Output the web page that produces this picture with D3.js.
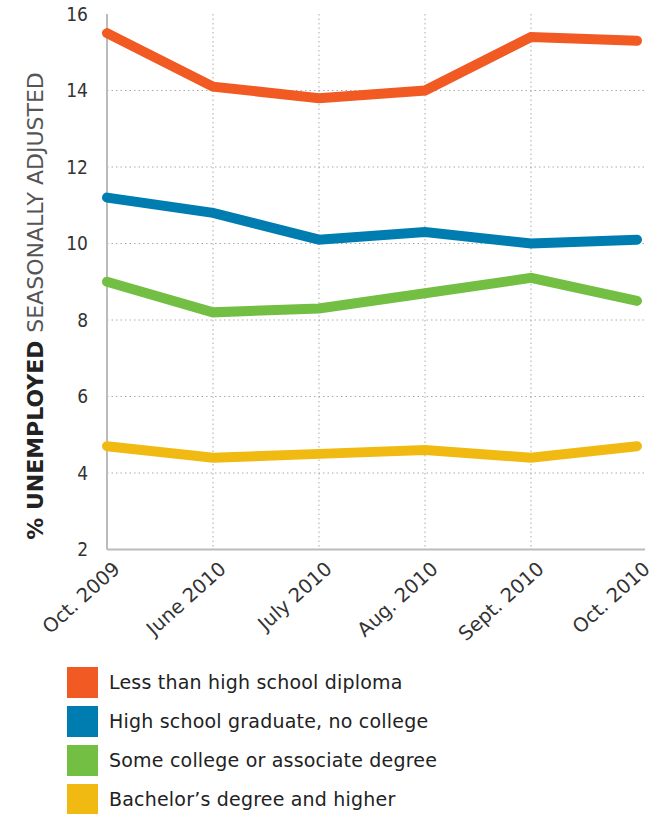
<!DOCTYPE html>
<html>
<head>
<meta charset="utf-8">
<script src="https://cdn.jsdelivr.net/npm/d3@7"></script>
<style>
  body { margin: 0; background: #fff; }
  svg { display: block; font-family: "DejaVu Sans", sans-serif; }
</style>
</head>
<body>
<div id="chart"></div>
<script>
// categories and series
const months = ["Oct. 2009", "June 2010", "July 2010", "Aug. 2010", "Sept. 2010", "Oct. 2010"];
const lessThanHS = [15.5, 14.1, 13.8, 14.0, 15.4, 15.3];
const hsGrad = [11.2, 10.8, 10.1, 10.3, 10.0, 10.1];
const someCollege = [9.0, 8.2, 8.3, 8.7, 9.1, 8.5];
const bachelors = [4.7, 4.4, 4.5, 4.6, 4.4, 4.7];
const yTicks = [2, 4, 6, 8, 10, 12, 14, 16];
const seriesNames = ["Less than high school diploma", "High school graduate, no college", "Some college or associate degree", "Bachelor\u2019s degree and higher"];
const seriesColors = ["#F15A22", "#007DB0", "#72BF44", "#F1BA13"];

const series = [lessThanHS, hsGrad, someCollege, bachelors].map((vals, i) => ({
  name: seriesNames[i], color: seriesColors[i], values: vals
}));

const width = 657, height = 814;
const plotLeft = 107, plotRight = 645, plotTop = 14, plotBottom = 549.5;

const svg = d3.select("#chart").append("svg")
  .attr("width", width)
  .attr("height", height);

const x = d3.scalePoint().domain(months).range([plotLeft, 637]);
const y = d3.scaleLinear().domain([2, 16]).range([plotBottom, plotTop]);

// horizontal grid
svg.append("g")
  .selectAll("line")
  .data(yTicks.filter(d => d > 2 && d < 16))
  .enter()
  .append("line")
  .attr("x1", plotLeft).attr("x2", plotRight)
  .attr("y1", d => y(d)).attr("y2", d => y(d))
  .attr("stroke", "#aaa")
  .attr("stroke-width", 1)
  .attr("stroke-dasharray", "1.5,3");

// vertical grid
svg.append("g")
  .selectAll("line")
  .data(months.slice(1, 5))
  .enter()
  .append("line")
  .attr("x1", d => x(d)).attr("x2", d => x(d))
  .attr("y1", plotTop).attr("y2", plotBottom)
  .attr("stroke", "#aaa")
  .attr("stroke-width", 1)
  .attr("stroke-dasharray", "1.5,3");

// axes lines
svg.append("line")
  .attr("x1", plotLeft).attr("x2", plotLeft)
  .attr("y1", plotTop).attr("y2", plotBottom)
  .attr("stroke", "#bbb").attr("stroke-width", 2);
svg.append("line")
  .attr("x1", plotLeft).attr("x2", plotRight)
  .attr("y1", plotBottom).attr("y2", plotBottom)
  .attr("stroke", "#bbb").attr("stroke-width", 2);

// y tick labels
const yAxis = d3.axisLeft(y).tickValues(yTicks).tickSize(0).tickPadding(19);
const gy = svg.append("g")
  .attr("transform", `translate(${plotLeft},0)`)
  .call(yAxis);
gy.select(".domain").remove();
gy.selectAll("text")
  .attr("font-size", 19)
  .attr("fill", "#333")
  .attr("font-family", "'DejaVu Sans Condensed', sans-serif");

// x tick labels
svg.append("g")
  .selectAll("text")
  .data(months)
  .enter()
  .append("text")
  .attr("transform", d => `translate(${x(d) + 5},${plotBottom + 11}) rotate(-42)`)
  .attr("text-anchor", "end")
  .attr("dy", "0.7em")
  .attr("font-size", 19.5)
  .attr("fill", "#333")
  .text(d => d);

// y axis title
const title = svg.append("text")
  .attr("transform", "translate(43,306) rotate(-90)")
  .attr("text-anchor", "middle")
  .attr("font-size", 22)
  .attr("fill", "#333");
title.append("tspan").attr("font-weight", "bold").attr("fill", "#222").text("% UNEMPLOYED ");
title.append("tspan").attr("font-weight", "normal").attr("fill", "#555").text("SEASONALLY ADJUSTED");

// lines
const line = d3.line()
  .x((d, i) => x(months[i]))
  .y(d => y(d));

svg.append("g")
  .selectAll("path")
  .data(series)
  .enter()
  .append("path")
  .attr("d", s => line(s.values))
  .attr("fill", "none")
  .attr("stroke", s => s.color)
  .attr("stroke-width", 10)
  .attr("stroke-linecap", "round")
  .attr("stroke-linejoin", "miter");

// legend
const legend = svg.append("g")
  .selectAll("g")
  .data(series)
  .enter()
  .append("g")
  .attr("transform", (d, i) => `translate(67,${667 + i * 39})`);

legend.append("rect")
  .attr("width", 31)
  .attr("height", 31)
  .attr("fill", d => d.color);

legend.append("text")
  .attr("x", 42)
  .attr("y", 22)
  .attr("font-size", 19)
  .attr("letter-spacing", 0.2)
  .attr("fill", "#222")
  .text(d => d.name);
</script>
</body>
</html>
